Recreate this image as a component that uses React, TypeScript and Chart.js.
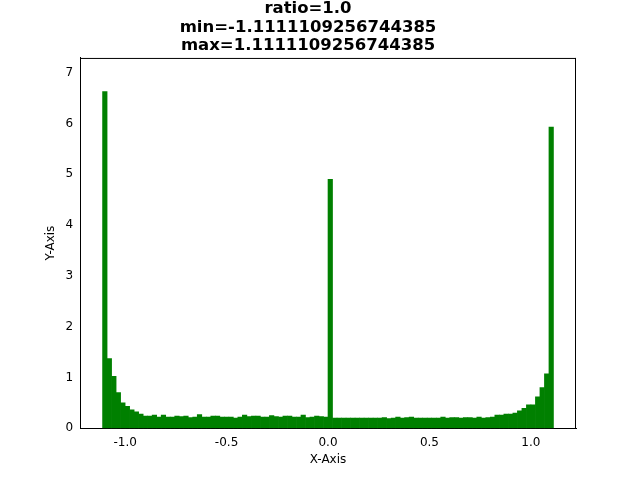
import React, { useEffect, useRef } from "react";
import { Chart, registerables } from "chart.js";
Chart.register(...registerables);

const binCount = 100;
const xMin = -1.1111109256744385;
const xMax = 1.1111109256744385;
const counts: number[] = [
  6.63, 1.37, 1.02, 0.70, 0.50, 0.43, 0.36, 0.32, 0.28, 0.24,
  0.24, 0.26, 0.22, 0.26, 0.22, 0.22, 0.24, 0.23, 0.24, 0.21,
  0.22, 0.27, 0.22, 0.22, 0.24, 0.24, 0.22, 0.22, 0.22, 0.20,
  0.22, 0.26, 0.23, 0.24, 0.24, 0.22, 0.22, 0.25, 0.23, 0.22,
  0.24, 0.24, 0.22, 0.22, 0.26, 0.21, 0.22, 0.24, 0.23, 0.22,
  4.90, 0.20, 0.20, 0.20, 0.20, 0.20, 0.20, 0.20, 0.20, 0.20,
  0.20, 0.20, 0.21, 0.19, 0.20, 0.22, 0.20, 0.21, 0.22, 0.20,
  0.20, 0.20, 0.20, 0.20, 0.20, 0.22, 0.20, 0.21, 0.21, 0.20,
  0.21, 0.21, 0.20, 0.22, 0.20, 0.21, 0.22, 0.21, 0.20, 0.21,
  0.21, 0.21, 0.20, 0.21, 0.22, 0.19, 0.22, 0.21, 0.20, 0.22,
];
// right tail overrides
const tail: number[] = [0.26, 0.26, 0.28, 0.28, 0.30, 0.34, 0.39, 0.46, 0.46, 0.62, 0.80, 1.07, 5.93];
const titleLines = ["ratio=1.0", "min=-1.1111109256744385", "max=1.1111109256744385"];
const xTicks = [-1.0, -0.5, 0.0, 0.5, 1.0];

export default function App() {
  const ref = useRef<HTMLCanvasElement>(null);
  useEffect(() => {
    const vals = counts.slice();
    for (let k = 0; k < tail.length; k++) vals[binCount - tail.length + k] = tail[k];
    const w = (xMax - xMin) / binCount;
    const data = vals.map((y, i) => ({ x: xMin + (i + 0.5) * w, y }));
    const chart = new Chart(ref.current!, {
      type: "bar",
      data: {
        datasets: [{
          data,
          backgroundColor: "#008000",
          barPercentage: 1,
          categoryPercentage: 1,
          borderWidth: 0,
        }],
      },
      options: {
        animation: false,
        responsive: false,
        layout: { padding: { left: 40, right: 64, top: 0, bottom: 13 } },
        plugins: {
          legend: { display: false },
          tooltip: { enabled: false },
          title: {
            display: true,
            text: titleLines,
            color: "#000",
            font: { family: "DejaVu Sans", size: 16.5, weight: "bold", lineHeight: 1.1 },
            padding: { top: 0, bottom: 3.5 },
          },
        },
        scales: {
          x: {
            type: "linear",
            min: -1.2222,
            max: 1.2222,
            offset: false,
            grid: { display: false, drawTicks: true, tickLength: 4, tickColor: "#000" },
            border: { color: "#000" },
            afterBuildTicks: (s: any) => { s.ticks = xTicks.map((v) => ({ value: v })); },
            ticks: {
              color: "#000",
              font: { family: "DejaVu Sans", size: 12 },
              callback: (v: any) => Number(v).toFixed(1),
            },
            title: { display: true, text: "X-Axis", color: "#000", font: { family: "DejaVu Sans", size: 12 }, padding: 0 },
          },
          y: {
            min: 0,
            max: 7.29,
            grid: { display: false, tickLength: 4, tickColor: "#000" },
            border: { color: "#000" },
            afterBuildTicks: (s: any) => { s.ticks = [0, 1, 2, 3, 4, 5, 6, 7].map((v) => ({ value: v })); },
            ticks: { color: "#000", font: { family: "DejaVu Sans", size: 12 } },
            title: { display: true, text: "Y-Axis", color: "#000", font: { family: "DejaVu Sans", size: 12 }, padding: 4 },
          },
        },
      },
      plugins: [{
        id: "frame",
        afterDraw: (c: any) => {
          const a = c.chartArea, ctx = c.ctx;
          ctx.save(); ctx.strokeStyle = "#000"; ctx.lineWidth = 1;
          ctx.beginPath();
          ctx.moveTo(a.left, a.top + 0.5); ctx.lineTo(a.right, a.top + 0.5);
          ctx.moveTo(a.right - 0.5, a.top); ctx.lineTo(a.right - 0.5, a.bottom);
          ctx.stroke(); ctx.restore();
        },
      }],
    } as any);
    return () => chart.destroy();
  }, []);
  return (
    <div style={{ position: "absolute", left: 0, top: 0, width: 640, height: 480, background: "#fff" }}>
      <canvas ref={ref} width={640} height={480} />
    </div>
  );
}
